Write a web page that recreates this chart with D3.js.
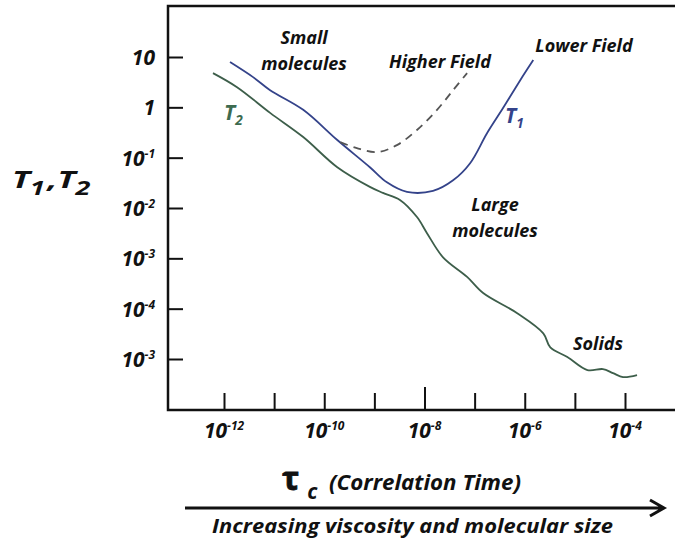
<!DOCTYPE html>
<html>
<head>
<meta charset="utf-8">
<script src="https://cdn.jsdelivr.net/npm/d3@7"></script>
<style>
  body { margin: 0; background: #fff; }
  text { font-family: "Open Sans", sans-serif; font-style: italic; font-weight: bold; fill: #111; }
</style>
</head>
<body>
<svg width="675" height="543"></svg>
<script>
// tick values and their printed labels (the last y label reads 10^-3 in the source)
var yTicks = [10, 1, 1e-1, 1e-2, 1e-3, 1e-4, 1e-5]
var yLabels = [["10", ""], ["1", ""], ["10", "-1"], ["10", "-2"], ["10", "-3"], ["10", "-4"], ["10", "-3"]]
var xTicks = [1e-12, 1e-11, 1e-10, 1e-9, 1e-8, 1e-7, 1e-6, 1e-5, 1e-4]
var xLabelTicks = [1e-12, 1e-10, 1e-8, 1e-6, 1e-4]
var xLabels = [["10", "-12"], ["10", "-10"], ["10", "-8"], ["10", "-6"], ["10", "-4"]]

// curves as [log10 tau_c, log10 T]
var t2Curve = [[-12.22,0.68],[-11.74,0.40],[-11.08,-0.11],[-10.42,-0.59],[-9.74,-1.19],[-9.09,-1.58],
  [-8.83,-1.70],[-8.49,-1.84],[-8.15,-2.18],[-7.95,-2.50],[-7.63,-2.98],[-7.15,-3.37],[-6.83,-3.69],
  [-6.15,-4.09],[-5.63,-4.49],[-5.49,-4.77],[-5.15,-4.96],[-4.75,-5.22],[-4.44,-5.20],[-4.24,-5.28],
  [-4.04,-5.36],[-3.76,-5.32]]
var t1Curve = [[-11.88,0.90],[-11.42,0.60],[-11.08,0.34],[-10.42,-0.05],[-9.74,-0.65],[-9.09,-1.19],
  [-8.75,-1.49],[-8.35,-1.68],[-7.83,-1.66],[-7.43,-1.45],[-7.09,-1.11],[-6.75,-0.51],[-6.43,-0.01],
  [-6.09,0.54],[-5.83,0.94]]
var highField = [[-9.68,-0.69],[-9.35,-0.81],[-8.95,-0.89],[-8.55,-0.75],[-8.15,-0.45],[-7.75,-0.05],
  [-7.43,0.34],[-7.15,0.68]]

var svg = d3.select('svg')

var x = d3.scaleLog().domain([1e-12, 1e-4]).range([224, 625])
var y = d3.scaleLog().domain([10, 1e-5]).range([57, 359])

var frameL = 168, frameT = 6, frameB = 410, frameR = 675

// frame (left, top, bottom)
svg.append('path')
  .attr('d', `M${frameR},${frameT}H${frameL}V${frameB}H${frameR}`)
  .attr('fill', 'none').attr('stroke', '#111').attr('stroke-width', 2.5)

// y ticks pointing inward
var yAxis = svg.append('g').attr('transform', `translate(${frameL},0)`)
  .call(d3.axisLeft(y).tickValues(yTicks).tickSize(-15).tickPadding(13).tickFormat(''))
yAxis.select('.domain').remove()
yAxis.selectAll('.tick line').attr('stroke', '#111').attr('stroke-width', 2)
yAxis.selectAll('.tick text').each(function(d, i) {
  var t = d3.select(this).attr('font-size', 21).attr('fill', '#111').attr('dy', '0.35em')
  t.append('tspan').text(yLabels[i][0])
  if (yLabels[i][1]) t.append('tspan').attr('dy', -8).attr('font-size', 12).text(yLabels[i][1])
})

// x ticks pointing inward
var xAxis = svg.append('g').attr('transform', `translate(0,${frameB - 1})`)
  .call(d3.axisBottom(x).tickValues(xTicks).tickSize(-16).tickFormat(''))
xAxis.select('.domain').remove()
xAxis.selectAll('.tick line').attr('stroke', '#111').attr('stroke-width', 2)
  .attr('y2', (d) => d === 1e-8 ? -22 : -16)

svg.selectAll('.xlab')
  .data(xLabelTicks)
  .enter()
  .append('text')
  .attr('class', 'xlab')
  .attr('x', (d) => x(d))
  .attr('y', 438)
  .attr('text-anchor', 'middle')
  .attr('font-size', 21)
  .each(function(d, i) {
    var t = d3.select(this)
    t.append('tspan').text(xLabels[i][0])
    t.append('tspan').attr('dy', -8).attr('font-size', 12).text(xLabels[i][1])
  })

// curves
var line = d3.line()
  .x((d) => x(Math.pow(10, d[0])))
  .y((d) => y(Math.pow(10, d[1])))
  .curve(d3.curveCatmullRom)

svg.append('path').datum(t2Curve).attr('d', line)
  .attr('fill', 'none').attr('stroke', '#3d5e4a').attr('stroke-width', 1.8)
svg.append('path').datum(t1Curve).attr('d', line)
  .attr('fill', 'none').attr('stroke', '#34438a').attr('stroke-width', 1.8)
svg.append('path').datum(highField).attr('d', line)
  .attr('fill', 'none').attr('stroke', '#555').attr('stroke-width', 1.8)
  .attr('stroke-dasharray', '8,6')

// annotations
function note(lines, cx, cy, size, color) {
  var t = svg.append('text').attr('text-anchor', 'middle').attr('font-size', size)
  if (color) t.style('fill', color)
  lines.forEach((s, i) => t.append('tspan').attr('x', cx).attr('y', cy + i * 26).text(s))
}
note(['Small', 'molecules'], 304, 44, 18)
note(['Higher Field'], 440, 68, 18)
note(['Lower Field'], 584, 52, 18)
note(['Large', 'molecules'], 495, 211, 18)
note(['Solids'], 598, 350, 18)

function sub(xp, yp, base, s, color, size) {
  var t = svg.append('text').attr('x', xp).attr('y', yp).attr('font-size', size)
  if (color) t.style('fill', color)
  t.append('tspan').text(base)
  t.append('tspan').attr('dy', size * 0.25).attr('font-size', size * 0.65).text(s)
  return t
}
sub(505, 123, 'T', '1', '#34438a', 21)
sub(224, 120, 'T', '2', '#3d6b50', 21)

// y axis title, widened like the source lettering
var yt = svg.append('text').attr('transform', 'translate(12,188) scale(1.42,1)').attr('font-size', 24)
yt.append('tspan').text('T')
yt.append('tspan').attr('dy', 7).attr('font-size', 19).text('1')
yt.append('tspan').attr('dy', -7).attr('dx', 2).text(',T')
yt.append('tspan').attr('dy', 7).attr('font-size', 19).text('2')

// x axis title
var xt = svg.append('text').attr('x', 282).attr('y', 490).attr('font-size', 21)
xt.append('tspan').attr('font-size', 32).attr('font-style', 'normal').attr('stroke', '#111').attr('stroke-width', 0.8).text('τ')
xt.append('tspan').attr('dy', 9).attr('dx', 8).text('c')
svg.append('text').attr('x', 329).attr('y', 490).attr('font-size', 21)
  .attr('textLength', 192).attr('lengthAdjust', 'spacingAndGlyphs')
  .text('(Correlation Time)')

// arrow
svg.append('path')
  .attr('d', 'M185,508H663M650,500L664,508L650,516')
  .attr('fill', 'none').attr('stroke', '#111').attr('stroke-width', 3)

svg.append('text').attr('x', 212).attr('y', 533)
  .attr('font-size', 20).attr('textLength', 401).attr('lengthAdjust', 'spacingAndGlyphs')
  .text('Increasing viscosity and molecular size')
</script>
</body>
</html>
